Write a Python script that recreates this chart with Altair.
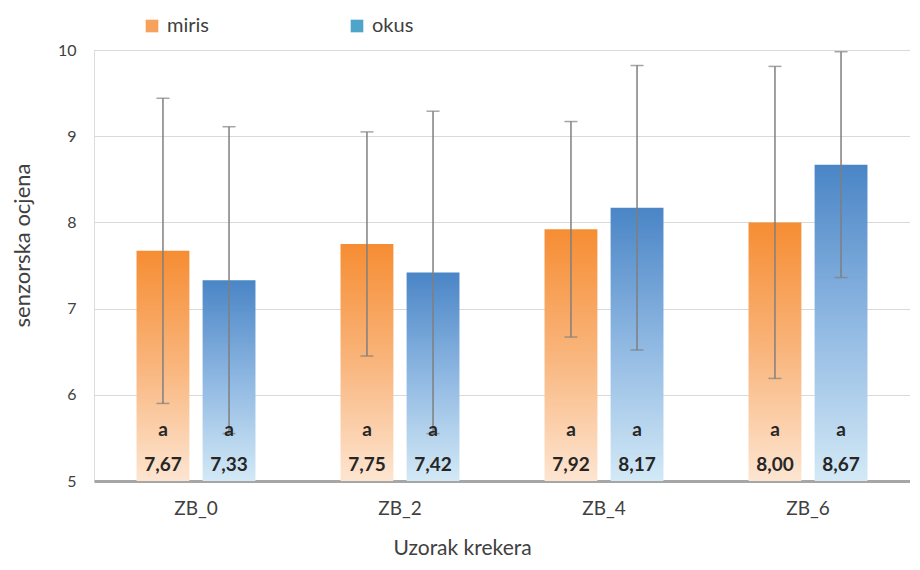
import altair as alt
import pandas as pd

groups = ["ZB_0", "ZB_2", "ZB_4", "ZB_6"]
series = ["miris", "okus"]
miris = [7.67, 7.75, 7.92, 8.00]
okus = [7.33, 7.42, 8.17, 8.67]
miris_sd = [1.77, 1.30, 1.25, 1.81]
okus_sd = [1.78, 1.87, 1.65, 1.31]
miris_sig = ["a", "a", "a", "a"]
okus_sig = ["a", "a", "a", "a"]

rows = []
for i, g in enumerate(groups):
    for s, vals, sds, sig in [("miris", miris, miris_sd, miris_sig), ("okus", okus, okus_sd, okus_sig)]:
        v = vals[i]
        sd = sds[i]
        rows.append({
            "uzorak": g, "serija": s, "vrijednost": v,
            "lo": v - sd, "hi": v + sd,
            "oznaka": f"{v:.2f}".replace(".", ","),
            "slovo": sig[i],
        })
df = pd.DataFrame(rows)

FONT = "Lato"

x_enc = alt.X("uzorak:N", sort=groups,
              scale=alt.Scale(paddingInner=0.417, paddingOuter=0.2085),
              axis=alt.Axis(title="Uzorak krekera", labelAngle=0, ticks=False,
                            domainColor="#a6a6a6", domainWidth=3,
                            labelPadding=18, titlePadding=19, titleX=368,
                            labelFont=FONT, titleFont=FONT,
                            labelFontSize=19, titleFontSize=21,
                            labelColor="#404040", titleColor="#404040",
                            titleFontWeight="normal"))
xo = alt.XOffset("serija:N", scale=alt.Scale(domain=series, paddingInner=0.2))
y_scale = alt.Scale(domain=[5, 10], zero=False, nice=False)
y_enc = alt.Y("vrijednost:Q", scale=y_scale,
              axis=alt.Axis(title="senzorska ocjena", values=[5, 6, 7, 8, 9, 10], format="d",
                            ticks=False, domain=False, gridColor="#d9d9d9",
                            labelPadding=18, titlePadding=23, titleY=195,
                            labelFont=FONT, titleFont=FONT,
                            labelFontSize=16, titleFontSize=22,
                            labelColor="#404040", titleColor="#404040",
                            titleFontWeight="normal"))

base = alt.Chart(df)

grad_orange = alt.LinearGradient(
    gradient="linear", x1=0, y1=0, x2=0, y2=1,
    stops=[alt.GradientStop(color="#f68d33", offset=0),
           alt.GradientStop(color="#f9b57c", offset=0.5),
           alt.GradientStop(color="#fde5d1", offset=1)])
grad_blue = alt.LinearGradient(
    gradient="linear", x1=0, y1=0, x2=0, y2=1,
    stops=[alt.GradientStop(color="#4a85c6", offset=0),
           alt.GradientStop(color="#8fb8e2", offset=0.5),
           alt.GradientStop(color="#d3e9f6", offset=1)])

bars_m = base.transform_filter(alt.datum.serija == "miris").mark_bar(color=grad_orange).encode(
    x=x_enc, xOffset=xo, y=y_enc, y2=alt.datum(5))
bars_o = base.transform_filter(alt.datum.serija == "okus").mark_bar(color=grad_blue).encode(
    x=x_enc, xOffset=xo, y=y_enc, y2=alt.datum(5))

legend_layer = base.mark_square(opacity=0).encode(
    x=x_enc, xOffset=xo, y=y_enc,
    color=alt.Color("serija:N", scale=alt.Scale(domain=series, range=["#f7a25c", "#4fa5c9"]),
                    legend=alt.Legend(title=None, orient="none", direction="horizontal",
                                      legendX=48, legendY=-34, symbolType="square",
                                      symbolSize=160, symbolOpacity=1, symbolStrokeWidth=0,
                                      labelFontSize=20, labelColor="#404040",
                                      labelFont=FONT, labelOffset=5,
                                      columnPadding=138, padding=0)))

err_rule = base.mark_rule(color="#7f7f7f", strokeWidth=1.5).encode(
    x=x_enc, xOffset=xo, y=alt.Y("lo:Q", scale=y_scale), y2="hi:Q")
cap_hi = base.mark_tick(color="#7f7f7f", size=13, thickness=1.5).encode(
    x=x_enc, xOffset=xo, y=alt.Y("hi:Q", scale=y_scale))
cap_lo = base.mark_tick(color="#7f7f7f", size=13, thickness=1.5).encode(
    x=x_enc, xOffset=xo, y=alt.Y("lo:Q", scale=y_scale))

txt_val = base.mark_text(font=FONT, fontSize=19, fontWeight="bold", color="#262626",
                         baseline="middle", dy=-16).encode(
    x=x_enc, xOffset=xo, y=alt.datum(5), text="oznaka:N")
txt_sig = base.mark_text(font=FONT, fontSize=19, fontWeight="bold", color="#262626",
                         baseline="middle", dy=-51).encode(
    x=x_enc, xOffset=xo, y=alt.datum(5), text="slovo:N")

chart = alt.layer(bars_m, bars_o, legend_layer, err_rule, cap_hi, cap_lo, txt_sig, txt_val).properties(
    width=816, height=431,
    padding={"left": 3, "top": 8, "right": 0, "bottom": 0},
).configure_view(stroke=None).configure(background="white")

chart.save("out.html", embed_options={"renderer": "svg", "actions": False})
